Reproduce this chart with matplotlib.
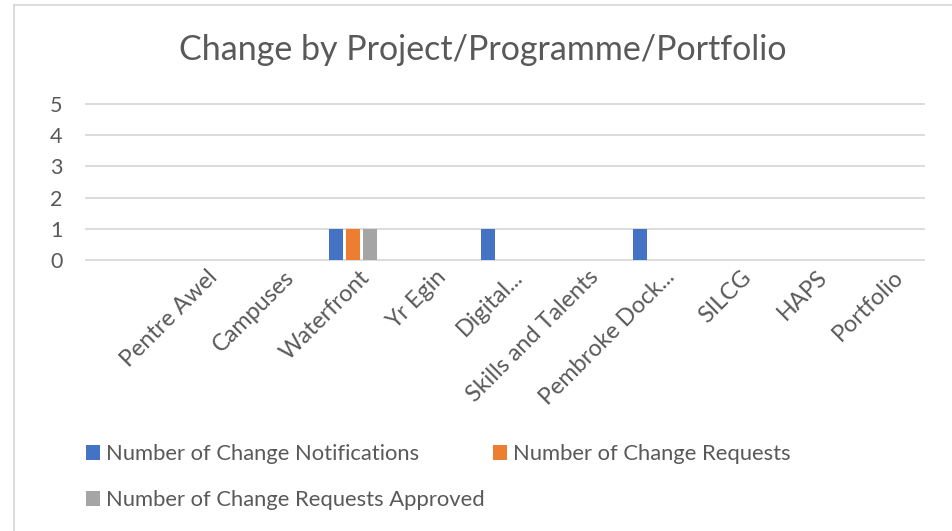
import matplotlib
matplotlib.use("Agg")
import matplotlib.pyplot as plt
from matplotlib.patches import Patch
from matplotlib.lines import Line2D
import matplotlib.transforms as mtransforms
import numpy as np

plt.rcParams['font.family'] = ['Lato', 'DejaVu Sans']

categories = ["", "Pentre Awel", "Campuses", "Waterfront", "Yr Egin", "Digital...",
              "Skills and Talents", "Pembroke Dock...", "SILCG", "HAPS", "Portfolio"]
notifications = [0, 0, 0, 1, 0, 1, 0, 1, 0, 0, 0]
requests = [0, 0, 0, 1, 0, 0, 0, 0, 0, 0, 0]
approved = [0, 0, 0, 1, 0, 0, 0, 0, 0, 0, 0]
series_names = ["Number of Change Notifications", "Number of Change Requests",
                "Number of Change Requests Approved"]
colors = ["#4472C4", "#ED7D31", "#A5A5A5"]
yticks = [0, 1, 2, 3, 4, 5]

W, H = 952, 531
fig = plt.figure(figsize=(W / 100, H / 100), dpi=100)
TXT = "#595959"
GRID = "#D9D9D9"

ax = fig.add_axes([86 / W, (H - 260) / H, 838 / W, 156 / H])
x = np.arange(len(categories))
slot = 0.223
bw = 0.184
for i, (vals, c) in enumerate(zip([notifications, requests, approved], colors)):
    ax.bar(x + (i - 1) * slot, vals, width=bw, color=c, zorder=3)

ax.set_xlim(-0.5, len(categories) - 0.5)
ax.set_ylim(0, 5)
ax.set_yticks(yticks)
ax.set_yticklabels([str(v) for v in yticks], fontsize=15.5, color=TXT)
ax.tick_params(axis='y', length=0, pad=17)
ax.yaxis.grid(True, color=GRID, linewidth=1.3)
for gl in ax.get_ygridlines():
    gl.set_clip_on(False)
ax.set_axisbelow(True)
for s in ax.spines.values():
    s.set_visible(False)

ax.set_xticks(x)
ax.set_xticklabels(categories, fontsize=16.8, color=TXT, rotation=45,
                   ha='right', va='center', rotation_mode='anchor')
ax.tick_params(axis='x', length=0, pad=10)
offset = mtransforms.ScaledTranslation(14 / 100, 0, fig.dpi_scale_trans)
for lbl in ax.get_xticklabels():
    lbl.set_transform(lbl.get_transform() + offset)

# title
fig.text(482.5 / W, (H - 60) / H, "Change by Project/Programme/Portfolio",
         ha='center', va='baseline', fontsize=24.5, color=TXT)

# legend (row-major order: matplotlib fills columns first)
fs = 15.8
fs_px = fs * 100 / 72
order = [0, 2, 1]
handles = [Patch(facecolor=colors[k], edgecolor='none') for k in order]
labels = [series_names[k] for k in order]
fig.legend(handles, labels, ncol=2, frameon=False, fontsize=fs,
           labelcolor=TXT, loc='upper left',
           bbox_to_anchor=(86 / W, (H - 444) / H),
           borderaxespad=0, borderpad=0,
           handlelength=14 / fs_px, handleheight=0.66,
           handletextpad=6 / fs_px, columnspacing=8 / fs_px,
           labelspacing=(45.5 - 0.89 * fs_px) / fs_px)

# chart border
fig.add_artist(Line2D([13.5 / W, 1.0], [(H - 5) / H, (H - 5) / H],
                      transform=fig.transFigure, color=GRID, linewidth=1.3))
fig.add_artist(Line2D([13.5 / W, 13.5 / W], [(H - 5) / H, 0],
                      transform=fig.transFigure, color=GRID, linewidth=1.3))

fig.savefig("out.png", dpi=100, facecolor="white")
